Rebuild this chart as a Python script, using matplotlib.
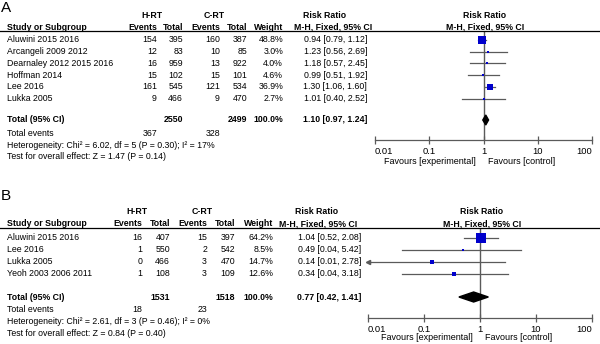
import matplotlib
matplotlib.use("Agg")
import matplotlib.pyplot as plt
from matplotlib.lines import Line2D
from matplotlib.patches import Polygon
import matplotlib.ticker as mticker

plt.rcParams['font.family'] = ['Liberation Sans', 'DejaVu Sans']

# ---------------- data: panel A ----------------
A_studies = ["Aluwini 2015 2016", "Arcangeli 2009 2012", "Dearnaley 2012 2015 2016",
             "Hoffman 2014", "Lee 2016", "Lukka 2005"]
A_h_events = [154, 12, 16, 15, 161, 9]
A_h_total = [395, 83, 959, 102, 545, 466]
A_c_events = [160, 10, 13, 15, 121, 9]
A_c_total = [387, 85, 922, 101, 534, 470]
A_weight = [48.8, 3.0, 4.0, 4.6, 36.9, 2.7]
A_rr = [0.94, 1.23, 1.18, 0.99, 1.30, 1.01]
A_lo = [0.79, 0.56, 0.57, 0.51, 1.06, 0.40]
A_hi = [1.12, 2.69, 2.45, 1.92, 1.60, 2.52]
A_sum_total = [2550, 2499]
A_sum_events = [367, 328]
A_sum_rr = [1.10, 0.97, 1.24]
A_het = "Heterogeneity: Chi\u00b2 = 6.02, df = 5 (P = 0.30); I\u00b2 = 17%"
A_test = "Test for overall effect: Z = 1.47 (P = 0.14)"

# ---------------- data: panel B ----------------
B_studies = ["Aluwini 2015 2016", "Lee 2016", "Lukka 2005", "Yeoh 2003 2006 2011"]
B_h_events = [16, 1, 0, 1]
B_h_total = [407, 550, 466, 108]
B_c_events = [15, 2, 3, 3]
B_c_total = [397, 542, 470, 109]
B_weight = [64.2, 8.5, 14.7, 12.6]
B_rr = [1.04, 0.49, 0.14, 0.34]
B_lo = [0.52, 0.04, 0.01, 0.04]
B_hi = [2.08, 5.42, 2.78, 3.18]
B_sum_total = [1531, 1518]
B_sum_events = [18, 23]
B_sum_rr = [0.77, 0.42, 1.41]
B_het = "Heterogeneity: Chi\u00b2 = 2.61, df = 3 (P = 0.46); I\u00b2 = 0%"
B_test = "Test for overall effect: Z = 0.84 (P = 0.40)"

tick_vals = [0.01, 0.1, 1, 10, 100]
tick_labels = ["0.01", "0.1", "1", "10", "100"]

W, H = 600, 344
fig = plt.figure(figsize=(6, 3.44), dpi=100)
FS = 6.3
GRAY = "#5a5a5a"
BLUE = "#0000cc"


def T(x, y, s, ha="left", bold=False, size=FS):
    fig.text(x / W, 1 - y / H, s, ha=ha, va="center", fontsize=size,
             fontweight="bold" if bold else "normal", color="black")


def panel(L, studies, he, ht, ce, ct, wt, rr, lo, hi, sum_total, sum_events, sum_rr, het, test):
    T(L["lab_x"], L["lab_y"], L["label"], size=11)
    T(L["hrt_x"], L["grp_y"], "H-RT", ha="center", bold=True)
    T(L["crt_x"], L["grp_y"], "C-RT", ha="center", bold=True)
    T(L["rr1_x"], L["grp_y"], "Risk Ratio", ha="center", bold=True)
    T(L["rr2_x"], L["grp_y"], "Risk Ratio", ha="center", bold=True)
    hy = L["hdr_y"]
    T(7, hy, "Study or Subgroup", bold=True)
    T(L["c1"], hy, "Events", ha="right", bold=True)
    T(L["c2"], hy, "Total", ha="right", bold=True)
    T(L["c3"], hy, "Events", ha="right", bold=True)
    T(L["c4"], hy, "Total", ha="right", bold=True)
    T(L["c5"], hy, "Weight", ha="right", bold=True)
    T(L["mh1_x"], hy, "M-H, Fixed, 95% CI", ha="center", bold=True)
    T(L["rr2_x"], hy, "M-H, Fixed, 95% CI", ha="center", bold=True)
    fig.add_artist(Line2D([0, 1], [1 - L["line_y"] / H] * 2, color="black", lw=0.9))

    ys = [L["row0"] + i * L["dy"] for i in range(len(studies))]
    for i, y in enumerate(ys):
        T(7, y, studies[i])
        T(L["c1"], y, str(he[i]), ha="right")
        T(L["c2"], y, str(ht[i]), ha="right")
        T(L["c3"], y, str(ce[i]), ha="right")
        T(L["c4"], y, str(ct[i]), ha="right")
        T(L["c5"], y, f"{wt[i]:.1f}%", ha="right")
        T(L["rrtxt"], y, f"{rr[i]:.2f} [{lo[i]:.2f}, {hi[i]:.2f}]", ha="right")
    ty = L["tot_y"]
    T(7, ty, "Total (95% CI)", bold=True)
    T(L["c2"], ty, str(sum_total[0]), ha="right", bold=True)
    T(L["c4"], ty, str(sum_total[1]), ha="right", bold=True)
    T(L["c5"], ty, "100.0%", ha="right", bold=True)
    T(L["rrtxt"], ty, f"{sum_rr[0]:.2f} [{sum_rr[1]:.2f}, {sum_rr[2]:.2f}]", ha="right", bold=True)
    T(7, L["ev_y"], "Total events")
    T(L["c1"], L["ev_y"], str(sum_events[0]), ha="right")
    T(L["c3"], L["ev_y"], str(sum_events[1]), ha="right")
    T(7, L["het_y"], het)
    T(7, L["test_y"], test)

    # forest axes, y in pixel rows
    x0, x1 = L["ax_x0"], L["ax_x1"]
    ax = fig.add_axes([x0 / W, 1 - L["axis_y"] / H, (x1 - x0) / W, (L["axis_y"] - L["line_y"]) / H])
    ax.set_xscale("log")
    ax.set_xlim(0.01, 100)
    ax.set_ylim(L["axis_y"], L["line_y"])
    ax.patch.set_alpha(0)
    for s in ["top", "left", "right"]:
        ax.spines[s].set_visible(False)
    ax.spines["bottom"].set_color(GRAY)
    ax.spines["bottom"].set_linewidth(0.9)
    ax.set_yticks([])
    ax.xaxis.set_major_locator(mticker.FixedLocator(tick_vals))
    ax.xaxis.set_major_formatter(mticker.FixedFormatter(tick_labels))
    ax.xaxis.set_minor_locator(mticker.NullLocator())
    ax.tick_params(axis="x", direction="inout", length=6, width=0.9, color=GRAY,
                   labelsize=6.8, pad=2)
    labs = ax.get_xticklabels()
    labs[0].set_horizontalalignment("left")
    labs[-1].set_horizontalalignment("right")
    ax.axvline(1, color=GRAY, lw=1.0, zorder=1)
    for i, y in enumerate(ys):
        l = max(lo[i], 0.01)
        ax.plot([l, hi[i]], [y, y], color=GRAY, lw=0.9, zorder=2, clip_on=False)
        if lo[i] <= 0.01:
            ax.plot([0.01], [y], marker="<", ms=3, color=GRAY, zorder=2, clip_on=False)
        side = max(2.0, 0.45 * wt[i] ** 0.75)
        ax.plot([rr[i]], [y], marker="s", ms=side * 0.72, color=BLUE, mec=BLUE,
                mew=0, zorder=3, linestyle="none")
    r, a, b = sum_rr
    hh = 5
    ax.add_patch(Polygon([[a, ty], [r, ty - hh], [b, ty], [r, ty + hh]],
                         closed=True, color="black", zorder=4))
    fy = L["fav_y"]
    T(L["one_x"] - 7, fy, "Favours [experimental]", ha="right", size=6.5)
    T(L["one_x"] + 5, fy, "Favours [control]", ha="left", size=6.5)


LA = dict(label="A", lab_x=1, lab_y=8.5, grp_y=15, hrt_x=152, crt_x=214, rr1_x=325, rr2_x=485,
          hdr_y=27, line_y=31, c1=157, c2=183, c3=220, c4=247, c5=283, mh1_x=333,
          row0=40, dy=11.7, rrtxt=367, tot_y=120, ev_y=134, het_y=146, test_y=157,
          ax_x0=375, ax_x1=592, axis_y=140, fav_y=162, one_x=483)
LB = dict(label="B", lab_x=1, lab_y=196.5, grp_y=212, hrt_x=137, crt_x=202, rr1_x=317, rr2_x=482,
          hdr_y=224, line_y=228, c1=142, c2=170, c3=207, c4=235, c5=273, mh1_x=318,
          row0=238, dy=12, rrtxt=361, tot_y=297, ev_y=309, het_y=321, test_y=333,
          ax_x0=368, ax_x1=592, axis_y=318, fav_y=338, one_x=480)

panel(LA, A_studies, A_h_events, A_h_total, A_c_events, A_c_total, A_weight, A_rr, A_lo, A_hi,
      A_sum_total, A_sum_events, A_sum_rr, A_het, A_test)
panel(LB, B_studies, B_h_events, B_h_total, B_c_events, B_c_total, B_weight, B_rr, B_lo, B_hi,
      B_sum_total, B_sum_events, B_sum_rr, B_het, B_test)

fig.savefig("out.png", dpi=100, facecolor="white")
